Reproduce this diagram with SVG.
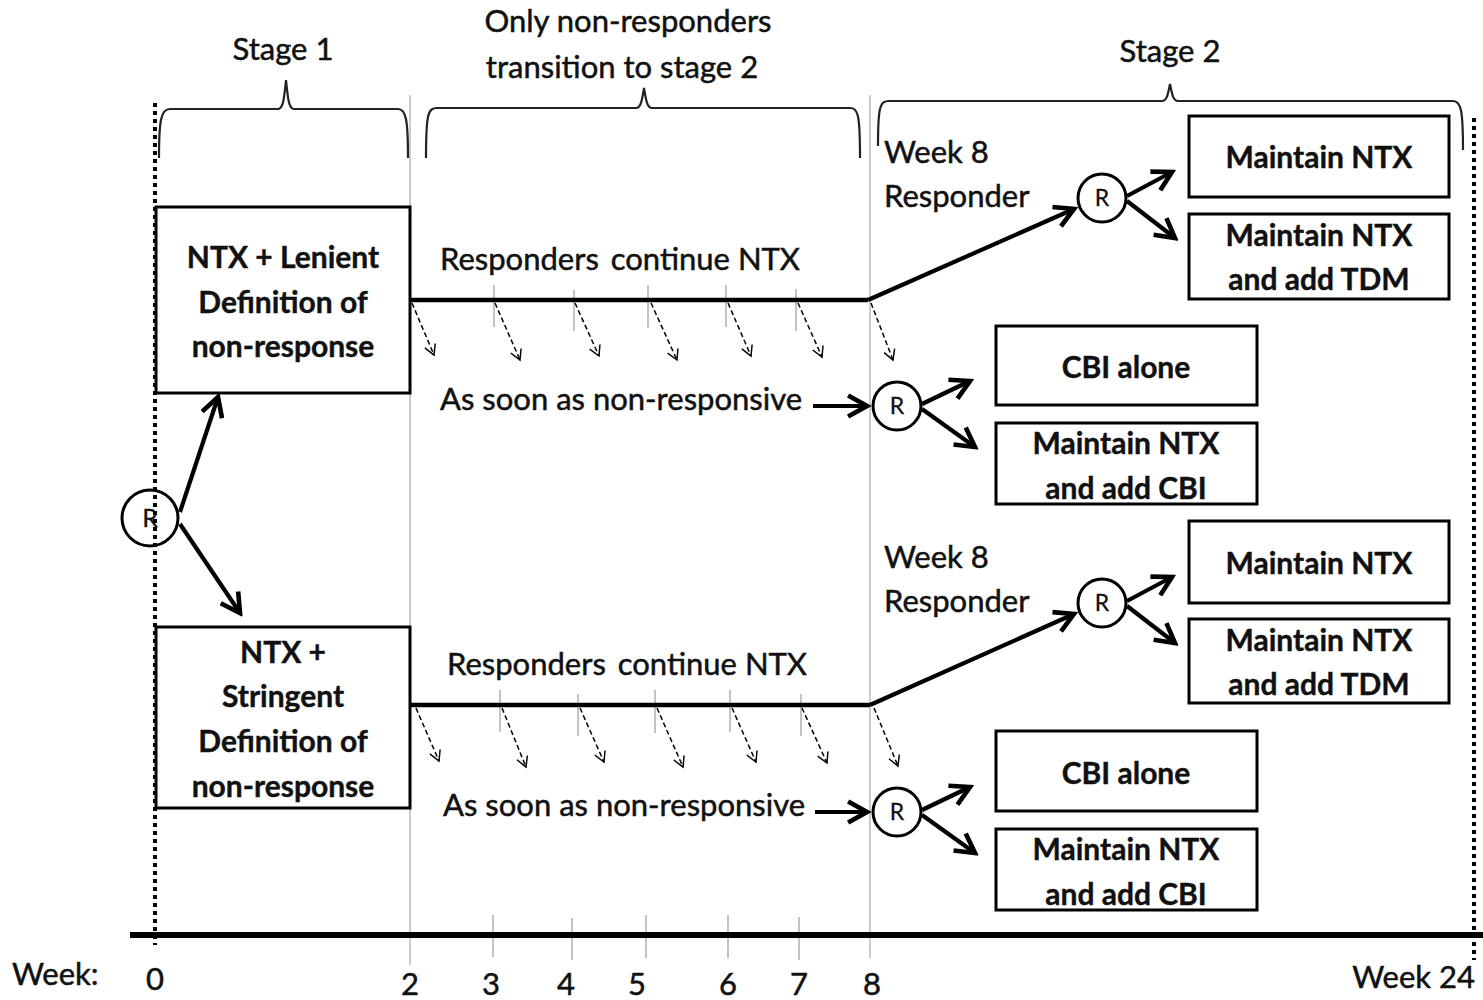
<svg xmlns="http://www.w3.org/2000/svg" width="1483" height="1000" viewBox="0 0 1483 1000">
  <style>
    text { font-family: Lato, "Liberation Sans", sans-serif; fill: #111; }
    .lbl { font-size: 31px; stroke: #111; stroke-width: 0.5; }
    .bx { font-size: 30px; font-weight: bold; text-anchor: middle; stroke: #111; stroke-width: 0.4; }
    .node rect { fill: #fff; stroke: #000; stroke-width: 3; }
    .rc { fill: none; stroke: #000; stroke-width: 3; }
    .rt { font-size: 23px; text-anchor: middle; stroke: #111; stroke-width: 0.3; }
    .guide { stroke: #999; stroke-width: 1; fill: none; }
    .dot { stroke: #000; stroke-width: 4; stroke-dasharray: 4 4; fill: none; }
    .brace { stroke: #222; stroke-width: 2.2; fill: none; }
    .thick { stroke: #000; stroke-width: 4.5; fill: none; }
    .arr { stroke: #000; stroke-width: 4.2; fill: none; marker-end: url(#head); }
    .dash { stroke: #000; stroke-width: 1.5; stroke-dasharray: 5 3; fill: none; marker-end: url(#open); }
    .tick { stroke: #888; stroke-width: 1; }
    .num { font-size: 31px; text-anchor: middle; stroke: #111; stroke-width: 0.5; }
  </style>
  <defs>
    <marker id="head" viewBox="0 0 12 12" refX="10" refY="6" markerWidth="6" markerHeight="6" orient="auto" markerUnits="strokeWidth">
      <path d="M1,1 L10,6 L1,11" fill="none" stroke="#000" stroke-width="2.2"/>
    </marker>
    <marker id="open" viewBox="0 0 12 12" refX="10" refY="6" markerWidth="9" markerHeight="9" orient="auto" markerUnits="strokeWidth">
      <path d="M1,1 L10,6 L1,11" fill="none" stroke="#000" stroke-width="1.3"/>
    </marker>
  </defs>

  <!-- time guides -->
  <g id="guides">
    <line class="guide" x1="410" y1="95" x2="410" y2="965"/>
    <line class="guide" x1="870" y1="95" x2="870" y2="958"/>
    <!-- week ticks on axis -->
    <line class="tick" x1="493" y1="915" x2="493" y2="957"/>
    <line class="tick" x1="572" y1="918" x2="572" y2="960"/>
    <line class="tick" x1="646" y1="915" x2="646" y2="958"/>
    <line class="tick" x1="728" y1="915" x2="728" y2="958"/>
    <line class="tick" x1="799" y1="917" x2="799" y2="960"/>
    <!-- week ticks on upper arm -->
    <line class="tick" x1="494" y1="285" x2="494" y2="327"/>
    <line class="tick" x1="574" y1="290" x2="574" y2="331"/>
    <line class="tick" x1="648" y1="285" x2="648" y2="328"/>
    <line class="tick" x1="726" y1="285" x2="726" y2="327"/>
    <line class="tick" x1="796" y1="289" x2="796" y2="331"/>
    <!-- week ticks on lower arm -->
    <line class="tick" x1="500" y1="690" x2="500" y2="732"/>
    <line class="tick" x1="578" y1="694" x2="578" y2="736"/>
    <line class="tick" x1="655" y1="690" x2="655" y2="733"/>
    <line class="tick" x1="730" y1="690" x2="730" y2="732"/>
    <line class="tick" x1="801" y1="694" x2="801" y2="736"/>
  </g>

  <!-- week axis -->
  <g id="axis">
    <line x1="130" y1="935" x2="1483" y2="935" stroke="#000" stroke-width="6"/>
    <text class="lbl" x="12" y="985">Week:</text>
    <text class="num" x="155" y="990">0</text>
    <text class="num" x="410" y="995">2</text>
    <text class="num" x="491" y="995">3</text>
    <text class="num" x="566" y="995">4</text>
    <text class="num" x="637" y="995">5</text>
    <text class="num" x="728" y="995">6</text>
    <text class="num" x="799" y="995">7</text>
    <text class="num" x="872" y="995">8</text>
    <text class="lbl" x="1475" y="988" text-anchor="end">Week 24</text>
  </g>

  <!-- stage braces -->
  <g id="braces">
    <path class="brace" d="M159,158 C159,120 161,109 170,109 L278,109 C283,109 284,100 286,80 C288,100 289,109 294,109 L398,109 C406,109 408,120 408,158"/>
    <path class="brace" d="M426,158 C426,114 428,108 437,108 L636,108 C641,108 642,100 644,88 C646,100 647,108 652,108 L850,108 C858,108 860,114 860,158"/>
    <path class="brace" d="M878,146 C878,106 880,101 889,101 L1162,101 C1167,101 1168,94 1170,84 C1172,94 1173,101 1178,101 L1453,101 C1461,101 1463,110 1463,150"/>
    <text class="lbl" x="283" y="60" text-anchor="middle">Stage 1</text>
    <text class="lbl" x="628" y="32" text-anchor="middle">Only non-responders</text>
    <text class="lbl" x="622" y="78" text-anchor="middle">transition to stage 2</text>
    <text class="lbl" x="1170" y="62" text-anchor="middle">Stage 2</text>
  </g>

  <!-- connectors -->
  <g id="connectors">
    <line class="arr" x1="180" y1="512" x2="218" y2="397"/>
    <line class="arr" x1="180" y1="524" x2="240" y2="613"/>

    <polyline class="thick" points="410,300 868,300"/>
    <line class="arr" x1="868" y1="300" x2="1074" y2="209"/>
    <polyline class="thick" points="410,705 870,705"/>
    <line class="arr" x1="870" y1="705" x2="1074" y2="614"/>

    <line class="arr" x1="813" y1="406" x2="867" y2="406"/>
    <line class="arr" x1="815" y1="812" x2="867" y2="812"/>

    <line class="arr" x1="922" y1="404" x2="970" y2="381"/>
    <line class="arr" x1="922" y1="409" x2="975" y2="447"/>
    <line class="arr" x1="922" y1="810" x2="970" y2="787"/>
    <line class="arr" x1="922" y1="815" x2="975" y2="853"/>
    <line class="arr" x1="1127" y1="196" x2="1172" y2="172"/>
    <line class="arr" x1="1127" y1="201" x2="1175" y2="238"/>
    <line class="arr" x1="1127" y1="601" x2="1172" y2="577"/>
    <line class="arr" x1="1127" y1="606" x2="1175" y2="643"/>

    <line class="dash" x1="412" y1="303" x2="434" y2="355"/>
    <line class="dash" x1="495" y1="303" x2="520" y2="360"/>
    <line class="dash" x1="575" y1="303" x2="599" y2="356"/>
    <line class="dash" x1="651" y1="303" x2="677" y2="360"/>
    <line class="dash" x1="728" y1="303" x2="751" y2="356"/>
    <line class="dash" x1="798" y1="303" x2="822" y2="357"/>
    <line class="dash" x1="871" y1="303" x2="893" y2="360"/>

    <line class="dash" x1="416" y1="708" x2="439" y2="761"/>
    <line class="dash" x1="502" y1="708" x2="526" y2="767"/>
    <line class="dash" x1="580" y1="708" x2="604" y2="762"/>
    <line class="dash" x1="657" y1="708" x2="683" y2="767"/>
    <line class="dash" x1="732" y1="708" x2="756" y2="762"/>
    <line class="dash" x1="802" y1="708" x2="827" y2="763"/>
    <line class="dash" x1="874" y1="708" x2="898" y2="766"/>
  </g>

  <!-- arm labels -->
  <g id="labels">
    <text class="lbl" x="440" y="270">Responders <tspan dx="4">continue NTX</tspan></text>
    <text class="lbl" x="440" y="410">As soon as non-responsive</text>
    <text class="lbl" x="884" y="163">Week 8</text>
    <text class="lbl" x="884" y="207">Responder</text>
    <text class="lbl" x="447" y="675">Responders <tspan dx="4">continue NTX</tspan></text>
    <text class="lbl" x="443" y="816">As soon as non-responsive</text>
    <text class="lbl" x="884" y="568">Week 8</text>
    <text class="lbl" x="884" y="612">Responder</text>
  </g>

  <!-- randomisation points -->
  <g id="r0" class="node">
    <circle cx="150" cy="518" r="28" fill="#fff"/>
    <text class="rt" x="150" y="527" style="font-size:25px">R</text>
    <line class="dot" x1="155" y1="103" x2="155" y2="945"/>
    <circle class="rc" cx="150" cy="518" r="28"/>
  </g>
  <line class="dot" x1="1474" y1="118" x2="1474" y2="960"/>
  <g id="r1" class="node">
    <circle class="rc" cx="1102" cy="198" r="24" fill="#fff"/>
    <text class="rt" x="1102" y="206">R</text>
  </g>
  <g id="r2" class="node">
    <circle class="rc" cx="897" cy="406" r="24"/>
    <text class="rt" x="897" y="414">R</text>
  </g>
  <g id="r3" class="node">
    <circle class="rc" cx="1102" cy="603" r="24"/>
    <text class="rt" x="1102" y="611">R</text>
  </g>
  <g id="r4" class="node">
    <circle class="rc" cx="897" cy="812" r="24"/>
    <text class="rt" x="897" y="820">R</text>
  </g>

  <!-- stage 1 arms -->
  <g id="lenient" class="node">
    <rect x="156" y="207" width="254" height="186"/>
    <text class="bx" x="283" y="268">NTX + Lenient</text>
    <text class="bx" x="283" y="313">Definition of</text>
    <text class="bx" x="283" y="357">non-response</text>
  </g>
  <g id="stringent" class="node">
    <rect x="156" y="627" width="254" height="181"/>
    <text class="bx" x="283" y="663">NTX +</text>
    <text class="bx" x="283" y="707">Stringent</text>
    <text class="bx" x="283" y="752">Definition of</text>
    <text class="bx" x="283" y="797">non-response</text>
  </g>

  <!-- stage 2 arms, lenient branch -->
  <g id="l-maintain" class="node">
    <rect x="1189" y="116" width="260" height="81"/>
    <text class="bx" x="1319" y="168">Maintain NTX</text>
  </g>
  <g id="l-tdm" class="node">
    <rect x="1189" y="214" width="260" height="85"/>
    <text class="bx" x="1319" y="246">Maintain NTX</text>
    <text class="bx" x="1319" y="290">and add TDM</text>
  </g>
  <g id="l-cbi" class="node">
    <rect x="996" y="326" width="261" height="79"/>
    <text class="bx" x="1126" y="378">CBI alone</text>
  </g>
  <g id="l-ntx-cbi" class="node">
    <rect x="996" y="423" width="261" height="81"/>
    <text class="bx" x="1126" y="454">Maintain NTX</text>
    <text class="bx" x="1126" y="499">and add CBI</text>
  </g>

  <!-- stage 2 arms, stringent branch -->
  <g id="s-maintain" class="node">
    <rect x="1189" y="521" width="260" height="82"/>
    <text class="bx" x="1319" y="574">Maintain NTX</text>
  </g>
  <g id="s-tdm" class="node">
    <rect x="1189" y="619" width="260" height="84"/>
    <text class="bx" x="1319" y="651">Maintain NTX</text>
    <text class="bx" x="1319" y="695">and add TDM</text>
  </g>
  <g id="s-cbi" class="node">
    <rect x="996" y="731" width="261" height="80"/>
    <text class="bx" x="1126" y="784">CBI alone</text>
  </g>
  <g id="s-ntx-cbi" class="node">
    <rect x="996" y="829" width="261" height="81"/>
    <text class="bx" x="1126" y="860">Maintain NTX</text>
    <text class="bx" x="1126" y="905">and add CBI</text>
  </g>
</svg>
